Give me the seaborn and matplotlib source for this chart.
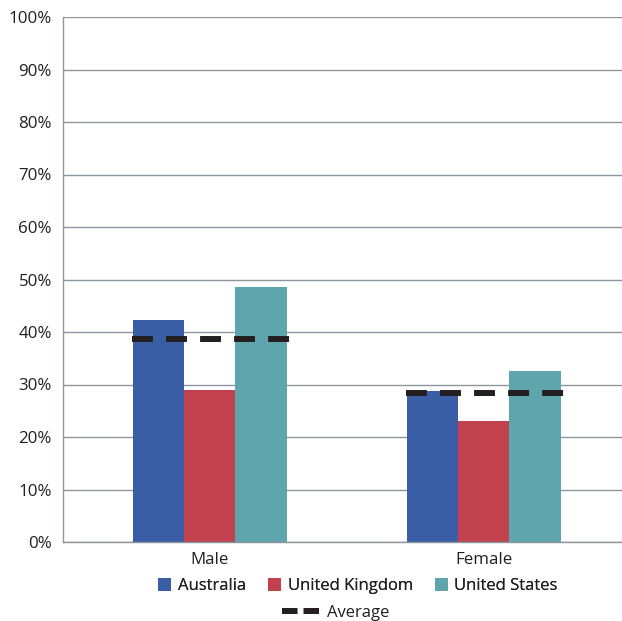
import pandas as pd
import matplotlib
matplotlib.use("Agg")
import matplotlib.pyplot as plt
import seaborn as sns
from matplotlib.patches import Patch
from matplotlib.lines import Line2D
from matplotlib.ticker import PercentFormatter

# данні з діаграми
genders = ["Male", "Female"]
countries = ["Australia", "United Kingdom", "United States"]
australia = [42.3, 28.8]
united_kingdom = [29.0, 23.0]
united_states = [48.6, 32.6]
average = [38.7, 28.4]

colors = ["#3a5ea6", "#c1414e", "#5fa5ad"]
text_color = "#231f20"
grid_color = "#8c969e"


def build_frame():
    rows = []
    for country, values in zip(countries, [australia, united_kingdom, united_states]):
        for g, v in zip(genders, values):
            rows.append({"Gender": g, "Country": country, "Value": v})
    return pd.DataFrame(rows)


def main():
    sns.set_theme(style="white")
    plt.rcParams["font.family"] = ["Open Sans", "DejaVu Sans"]

    data = build_frame()

    fig = plt.figure(figsize=(6.22, 6.21), dpi=100)
    ax = fig.add_axes([63 / 622, 79 / 621, 559 / 622, 525 / 621])

    sns.barplot(data=data, x="Gender", y="Value", hue="Country", order=genders,
                hue_order=countries, palette=colors, width=0.56, saturation=1,
                ax=ax, legend=False, linewidth=0)

    # середнє значення пунктиром
    for i, avg in enumerate(average):
        ax.hlines(avg, i - 0.285, i + 0.295, colors="#231f20", linewidth=4.3,
                  linestyles=(0, (3.5, 2.2)), zorder=5)

    ax.set_ylim(0, 100)
    ax.set_xlim(-0.536, 1.504)
    ax.set_yticks(range(0, 101, 10))
    ax.yaxis.set_major_formatter(PercentFormatter(decimals=0))
    ax.yaxis.grid(True, color=grid_color, linewidth=1.0)
    ax.set_axisbelow(True)
    ax.set_xlabel("")
    ax.set_ylabel("")
    for side in ["top", "right"]:
        ax.spines[side].set_visible(False)
    for side in ["left", "bottom"]:
        ax.spines[side].set_color(grid_color)
        ax.spines[side].set_linewidth(1.0)
    ax.tick_params(axis="both", length=0, labelsize=12.2, colors=text_color)
    ax.tick_params(axis="y", pad=8)
    ax.tick_params(axis="x", pad=7)

    handles = [Patch(facecolor=c, edgecolor="none") for c in colors]
    leg1 = fig.legend(handles, countries, loc="center", bbox_to_anchor=(358 / 622, 1 - 586 / 621),
                      ncol=3, frameon=False, fontsize=12, handlelength=0.78, handleheight=0.78,
                      handletextpad=0.4, columnspacing=1.3, labelcolor=text_color,
                      borderpad=0, borderaxespad=0)
    avg_handle = Line2D([0], [0], color="#231f20", linewidth=4.3, linestyle=(0, (2.6, 1.0)))
    fig.legend([avg_handle], ["Average"], loc="center", bbox_to_anchor=(336 / 622, 1 - 613 / 621),
               frameon=False, fontsize=12, handlelength=2.2, handletextpad=0.5,
               labelcolor=text_color, borderpad=0, borderaxespad=0)
    fig.add_artist(leg1)

    fig.savefig("out.png", dpi=100)


if __name__ == "__main__":
    main()
